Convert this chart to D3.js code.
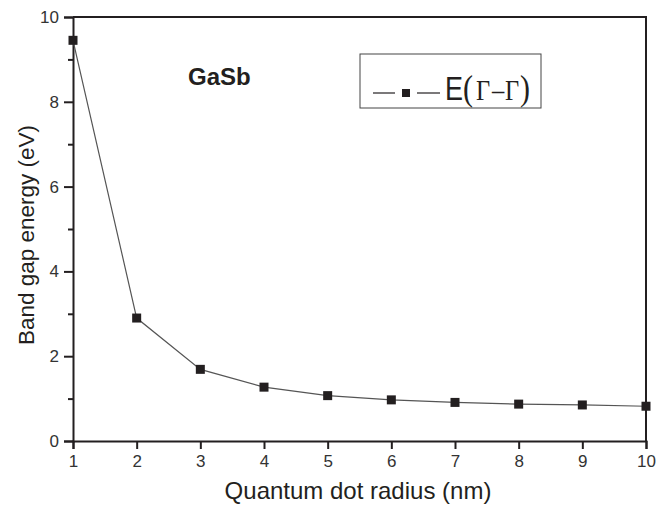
<!DOCTYPE html>
<html>
<head>
<meta charset="utf-8">
<script src="https://cdn.jsdelivr.net/npm/d3@7"></script>
<style>
  body { margin: 0; background: #fff; }
  svg { display: block; font-family: "Liberation Sans", Arial, sans-serif; }
</style>
</head>
<body>
<div id="layout"></div>
<script>
// data
var radius = [1, 2, 3, 4, 5, 6, 7, 8, 9, 10];
var gapEnergy = [9.45, 2.9, 1.69, 1.27, 1.07, 0.97, 0.91, 0.87, 0.85, 0.82];
var xTicks = [1, 2, 3, 4, 5, 6, 7, 8, 9, 10];
var yTicks = [0, 2, 4, 6, 8, 10];
var yMinorTicks = [1, 3, 5, 7, 9];

var outerWidth = 666,
    outerHeight = 508,
    margin = { top: 17, right: 20, bottom: 67, left: 73 },
    width = outerWidth - margin.left - margin.right,
    height = outerHeight - margin.top - margin.bottom;

var ink = "#231f20";

var svg = d3.select("#layout")
            .append("svg")
            .attr("width", outerWidth)
            .attr("height", outerHeight);

var g = svg.append("g")
           .attr("transform", "translate(" + margin.left + "," + margin.top + ")");

var xScale = d3.scaleLinear().domain([1, 10]).range([0, width]);
var yScale = d3.scaleLinear().domain([0, 10]).range([height, 0]);

// frame (top and right)
g.append("path")
 .attr("d", "M0,0H" + width + "V" + height)
 .attr("fill", "none")
 .attr("stroke", ink)
 .attr("stroke-width", 2);

// X axis
var xAxis = d3.axisBottom(xScale)
              .tickValues(xTicks)
              .tickSize(8)
              .tickPadding(6)
              .tickFormat(d3.format("d"));

g.append("g")
 .attr("transform", "translate(0," + height + ")")
 .call(xAxis);

// Y axis
var yAxis = d3.axisLeft(yScale)
              .tickValues(yTicks)
              .tickSize(9)
              .tickPadding(5)
              .tickFormat(d3.format("d"));

g.append("g").call(yAxis);

g.append("g")
 .call(d3.axisLeft(yScale).tickValues(yMinorTicks).tickSize(5).tickFormat(""))
 .select(".domain").remove();

g.selectAll(".domain, .tick line")
 .attr("stroke", ink)
 .attr("stroke-width", 2);

g.selectAll(".tick text")
 .attr("fill", "#333")
 .attr("font-size", 17)
 .attr("font-family", "'Liberation Sans', Arial, sans-serif");

// line + markers
var line = d3.line()
             .x(function(d, i) { return xScale(radius[i]); })
             .y(function(d) { return yScale(d); });

g.append("path")
 .datum(gapEnergy)
 .attr("d", line)
 .attr("fill", "none")
 .attr("stroke", "#555")
 .attr("stroke-width", 1.2);

var ms = 9;
g.selectAll("rect.pt")
 .data(gapEnergy)
 .enter()
 .append("rect")
 .attr("class", "pt")
 .attr("x", function(d, i) { return xScale(radius[i]) - ms / 2; })
 .attr("y", function(d) { return yScale(d) - ms / 2; })
 .attr("width", ms)
 .attr("height", ms)
 .attr("fill", ink);

// axis labels
svg.append("text")
   .attr("x", 358)
   .attr("y", 499)
   .attr("text-anchor", "middle")
   .attr("fill", ink)
   .style("font-size", "24px")
   .text("Quantum dot radius (nm)");

svg.append("text")
   .attr("transform", "translate(34,235) rotate(-90)")
   .attr("text-anchor", "middle")
   .attr("fill", ink)
   .style("font-size", "22.5px")
   .text("Band gap energy (eV)");

// GaSb label
svg.append("text")
   .attr("x", 188)
   .attr("y", 85)
   .attr("fill", ink)
   .style("font-size", "24px")
   .style("font-weight", "bold")
   .text("GaSb");

// legend
var legend = svg.append("g").attr("transform", "translate(360,54)");

legend.append("rect")
      .attr("width", 181)
      .attr("height", 54)
      .attr("fill", "#fff")
      .attr("stroke", "#444")
      .attr("stroke-width", 1);

legend.append("line")
      .attr("x1", 13).attr("x2", 35)
      .attr("y1", 39).attr("y2", 39)
      .attr("stroke", ink).attr("stroke-width", 1.2);
legend.append("line")
      .attr("x1", 57).attr("x2", 80)
      .attr("y1", 39).attr("y2", 39)
      .attr("stroke", ink).attr("stroke-width", 1.2);
legend.append("rect")
      .attr("x", 46 - 4).attr("y", 39 - 4)
      .attr("width", 8).attr("height", 8)
      .attr("fill", ink);

var lt = legend.append("g")
               .attr("transform", "translate(0,46) scale(1,1.2)")
               .append("text")
               .attr("fill", ink);
lt.append("tspan").attr("x", 85).attr("y", 0).style("font-size", "27px").text("E");
lt.append("tspan").attr("x", 103).attr("y", 0).style("font-family", "'Liberation Serif', serif").style("font-size", "30px").text("(");
lt.append("tspan").attr("x", 116).attr("y", 0).style("font-family", "'Liberation Serif', serif").style("font-size", "24.5px").text("Γ");
lt.append("tspan").attr("x", 132).attr("y", 0).style("font-family", "'Liberation Serif', serif").style("font-size", "24.5px").text("–");
lt.append("tspan").attr("x", 145).attr("y", 0).style("font-family", "'Liberation Serif', serif").style("font-size", "24.5px").text("Γ");
lt.append("tspan").attr("x", 160).attr("y", 0).style("font-family", "'Liberation Serif', serif").style("font-size", "30px").text(")");
</script>
</body>
</html>
